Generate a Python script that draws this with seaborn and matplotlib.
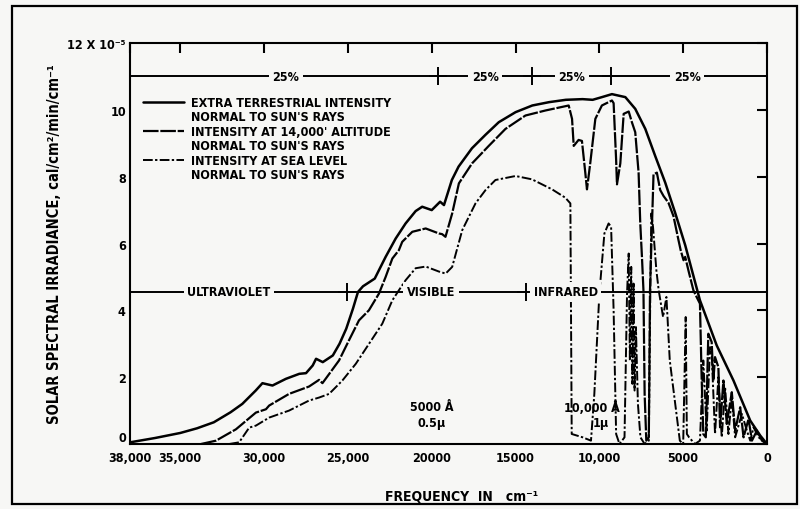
import matplotlib
matplotlib.use("Agg")
import matplotlib.pyplot as plt
import seaborn as sns
import pandas as pd
from matplotlib.lines import Line2D
from matplotlib.patches import Rectangle

# ---------------- data ----------------
et_freq = [38000, 36500, 35000, 34000, 33000, 32000, 31300, 30500, 30100, 29500, 28700, 27900, 27500, 27100,
           26900, 26500, 25900, 25500, 25100, 24700, 24400, 24100, 23400, 22750, 22150, 21560, 20960, 20570,
           20000, 19500, 19270, 18800, 18400, 17600, 16800, 16000, 15000, 14000, 13000, 12000, 11000, 10400,
           9850, 9250, 8450, 7860, 7260, 6670, 6070, 5480, 4880, 4000, 3000, 2000, 1000, 400, 0]
et_val = [0.05, 0.18, 0.33, 0.47, 0.65, 0.95, 1.2, 1.6, 1.82, 1.75, 1.95, 2.1, 2.12, 2.35,
          2.55, 2.45, 2.65, 3.0, 3.45, 4.05, 4.55, 4.72, 4.95, 5.6, 6.15, 6.6, 6.97, 7.1,
          7.0, 7.25, 7.15, 7.9, 8.3, 8.85, 9.25, 9.63, 9.93, 10.13, 10.23, 10.3, 10.32, 10.3,
          10.38, 10.47, 10.38, 10.03, 9.43, 8.62, 7.82, 6.92, 5.95, 4.3, 2.95, 1.9, 0.7, 0.25, 0.0]

alt_freq = [33760, 32870, 31680, 30490, 29890, 29700, 28510, 27320, 26720, 26520, 25530, 24940, 24340, 23750,
            23150, 22750, 22350, 21960, 21760, 21160, 20360, 19570, 19380, 19180, 18780, 18380, 17590, 16600,
            15600, 14410, 13220, 11830, 11630, 11530, 11240, 11040, 10840, 10740, 10540, 10240, 9850, 9250,
            9150, 9000, 8950, 8750, 8550, 8250, 8060, 7860, 7660, 7560, 7460, 7370, 7300, 7200, 7050, 6980,
            6770, 6570, 6370, 6170, 5880, 5580, 5280, 5150, 4980, 4880, 4690, 4390, 4200, 4000, 3900, 3800,
            3650, 3500, 3300, 3200, 3100, 2900, 2800, 2600, 2400, 2100, 1900, 1600, 1400, 1100, 900, 600, 300, 0]
alt_val = [0, 0.1, 0.44, 0.94, 1.04, 1.15, 1.5, 1.72, 1.92, 1.82, 2.5, 3.1, 3.7, 4.0,
           4.5, 5.0, 5.55, 5.8, 6.05, 6.35, 6.45, 6.3, 6.28, 6.2, 6.9, 7.8, 8.4, 8.92,
           9.43, 9.83, 9.98, 10.13, 9.73, 8.92, 9.1, 9.07, 8.12, 7.62, 8.42, 9.73, 10.13, 10.28,
           10.2, 8.5, 7.77, 8.4, 9.88, 9.95, 9.63, 9.33, 8.12, 6.6, 5.6, 4.6, 1.5, 0.1, 0.2, 4.6,
           8.07, 8.12, 7.6, 7.42, 7.22, 6.82, 6.1, 5.8, 5.5, 5.6, 5.2, 4.6, 4.4, 4.2, 2.0, 0.3,
           0.2, 3.3, 3.05, 1.9, 2.6, 2.3, 0.5, 1.9, 0.6, 1.55, 0.4, 1.1, 0.2, 0.75, 0.1, 0.4, 0.1, 0]

sea_freq = [32080, 31490, 30890, 30490, 29700, 28510, 27320, 26720, 26120, 25330, 24530, 23740, 22950, 22350,
            21960, 21560, 20960, 20360, 19570, 19170, 18780, 18180, 17390, 16790, 16200, 15000, 14020, 12820,
            12030, 11730, 11650, 11000, 10500, 10300, 10000, 9700, 9450, 9300, 9150, 9000, 8800, 8500, 8350,
            8250, 8180, 8100, 8030, 7960, 7900, 7820, 7700, 7550, 7300, 7050, 6960, 6900, 6800, 6600, 6460,
            6200, 6000, 5800, 5500, 5200, 5000, 4850, 4780, 4650, 4300, 4000, 3800, 3600, 3400, 3300, 3100,
            2900, 2700, 2500, 2300, 2100, 1900, 1500, 1200, 1000, 800, 500, 0]
sea_val = [0, 0.05, 0.49, 0.55, 0.79, 1.0, 1.3, 1.39, 1.5, 1.9, 2.4, 3.0, 3.6, 4.3,
           4.6, 4.9, 5.26, 5.31, 5.16, 5.1, 5.3, 6.4, 7.2, 7.6, 7.9, 8.02, 7.92, 7.62,
           7.37, 7.2, 0.3, 0.2, 0.1, 1.5, 4.5, 6.3, 6.6, 6.5, 4.0, 0.3, 0.0, 0.2, 4.5,
           5.7, 2.5, 5.3, 1.8, 4.8, 1.6, 3.5, 1.2, 0.2, 0.0, 0.1, 4.6, 6.9, 6.5, 5.2, 4.6,
           3.8, 4.4, 2.5, 1.3, 0.1, 0.0, 3.8, 0.3, 0.2, 0.0, 0.1, 2.5, 0.4, 2.9, 2.7, 0.3,
           2.0, 0.2, 1.7, 0.3, 1.4, 0.2, 0.9, 0.4, 0.1, 0.5, 0.2, 0]

series_labels = ["EXTRA TERRESTRIAL INTENSITY", "NORMAL TO SUN'S RAYS",
                 "INTENSITY AT 14,000' ALTITUDE", "NORMAL TO SUN'S RAYS",
                 "INTENSITY AT SEA LEVEL", "NORMAL TO SUN'S RAYS"]

x_ticks = [38000, 35000, 30000, 25000, 20000, 15000, 10000, 5000, 0]
x_tick_labels = ["38,000", "35,000", "30,000", "25,000", "20000", "15000", "10,000", "5000", "0"]
y_ticks = [0, 2, 4, 6, 8, 10, 12]
y_tick_labels = ["0", "2", "4", "6", "8", "10", "12 X 10\u207b\u2075"]

pct_level = 11
pct_bounds = [19600, 14000, 9300]
pct_label_pos = [28700, 16800, 11650, 4750]
pct_labels = ["25%", "25%", "25%", "25%"]

band_level = 4.55
band_bounds = [25050, 14400]
band_label_pos = [32100, 20050, 12000]
band_labels = ["ULTRAVIOLET", "VISIBLE", "INFRARED"]

# ---------------- style ----------------
sns.set_style("white")
plt.rcParams["font.family"] = ["DejaVu Sans"]
plt.rcParams["font.stretch"] = "condensed"
plt.rcParams["font.weight"] = "bold"
for key in ["text.color", "axes.labelcolor", "xtick.color", "ytick.color", "axes.edgecolor"]:
    plt.rcParams[key] = "black"
BG = "#f7f7f5"
FONT = dict(family=["DejaVu Sans"], stretch="condensed", weight="bold", color="black")

fig = plt.figure(figsize=(8.0, 5.1), dpi=100, facecolor=BG)
ax = fig.add_axes([130 / 800, 1 - 445 / 510, 637 / 800, 401 / 510])
ax.set_facecolor(BG)

df_et = pd.DataFrame({"freq": et_freq, "val": et_val})
df_alt = pd.DataFrame({"freq": alt_freq, "val": alt_val})
df_sea = pd.DataFrame({"freq": sea_freq, "val": sea_val})

sns.lineplot(data=df_et, x="freq", y="val", ax=ax, color="black", lw=1.8, sort=False, estimator=None)
sns.lineplot(data=df_alt, x="freq", y="val", ax=ax, color="black", lw=1.6, sort=False, estimator=None,
             linestyle=(0, (7, 0.8)))
sns.lineplot(data=df_sea, x="freq", y="val", ax=ax, color="black", lw=1.4, sort=False, estimator=None,
             linestyle=(0, (5, 1.2, 1.2, 1.2)))

ax.set_xlim(38000, 0)
ax.set_ylim(0, 12)
ax.set_xticks(x_ticks)
ax.set_xticklabels(x_tick_labels)
ax.set_yticks(y_ticks)
ax.set_yticklabels(y_tick_labels)
ax.tick_params(axis="both", direction="in", length=7, width=1.5, top=True, right=True,
               labelsize=9, pad=5, colors="black")
ax.tick_params(axis="y", pad=3)
for lab in ax.get_xticklabels() + ax.get_yticklabels():
    lab.set_fontstretch("condensed")
    lab.set_fontweight("bold")
    lab.set_color("black")
ax.get_yticklabels()[0].set_va("bottom")
for s in ax.spines.values():
    s.set_linewidth(1.5)
    s.set_color("black")

ax.set_xlabel("FREQUENCY  IN   cm\u207b\u00b9", fontsize=10, **FONT)
ax.xaxis.set_label_coords((462 - 130) / 637, -(490 - 445) / 401)
ax.set_ylabel("SOLAR SPECTRAL IRRADIANCE, cal/cm\u00b2/min/cm\u207b\u00b9", fontsize=10.5, **FONT)
ax.yaxis.set_label_coords(-(130 - 62) / 637, 0.5)

# 25 % energy line
ax.axhline(pct_level, color="black", lw=1.4)
ax.plot(pct_bounds, [pct_level] * len(pct_bounds), ls="none", marker="+", ms=13, mew=1.4, color="black")
for xp, t in zip(pct_label_pos, pct_labels):
    ax.text(xp, pct_level, t, ha="center", va="center", fontsize=9, **FONT,
            bbox=dict(facecolor=BG, edgecolor="none", pad=2.5))

# spectral band line
ax.axhline(band_level, color="black", lw=1.4)
ax.plot(band_bounds, [band_level] * len(band_bounds), ls="none", marker="+", ms=13, mew=1.4, color="black")
for xp, t in zip(band_label_pos, band_labels):
    ax.text(xp, band_level, t, ha="center", va="center", fontsize=9, **FONT,
            bbox=dict(facecolor=BG, edgecolor="none", pad=2.5))

# wavelength annotations
ax.text(20000, 1.12, "5000 \u00c5", ha="center", va="center", fontsize=9, **FONT)
ax.text(20000, 0.65, "0.5\u03bc", ha="center", va="center", fontsize=9, **FONT)
ax.text(10450, 1.12, "10,000 \u00c5", ha="center", va="center", fontsize=9, **FONT)
ax.text(9900, 0.65, "1\u03bc", ha="center", va="center", fontsize=9, **FONT)

# legend
blank = Line2D([], [], ls="none")
handles = [Line2D([], [], color="black", lw=1.8), blank,
           Line2D([], [], color="black", lw=1.6, ls=(0, (7, 0.8))), blank,
           Line2D([], [], color="black", lw=1.4, ls=(0, (5, 1.2, 1.2, 1.2))), blank]
leg = ax.legend(handles, series_labels, loc="upper left", bbox_to_anchor=(0.02, 0.868),
                frameon=False, borderaxespad=0, borderpad=0, handlelength=3.3, handletextpad=0.6,
                labelspacing=0.12, labelcolor="black",
                prop=dict(family="DejaVu Sans", stretch="condensed", weight="bold", size=9))

# outer frame of the scanned page
fig.add_artist(Rectangle((12 / 800, 1 - 505 / 510), 785 / 800, 498 / 510, transform=fig.transFigure,
                         fill=False, lw=1.6, ec="black"))

fig.savefig("out.png", dpi=100, facecolor=BG)
